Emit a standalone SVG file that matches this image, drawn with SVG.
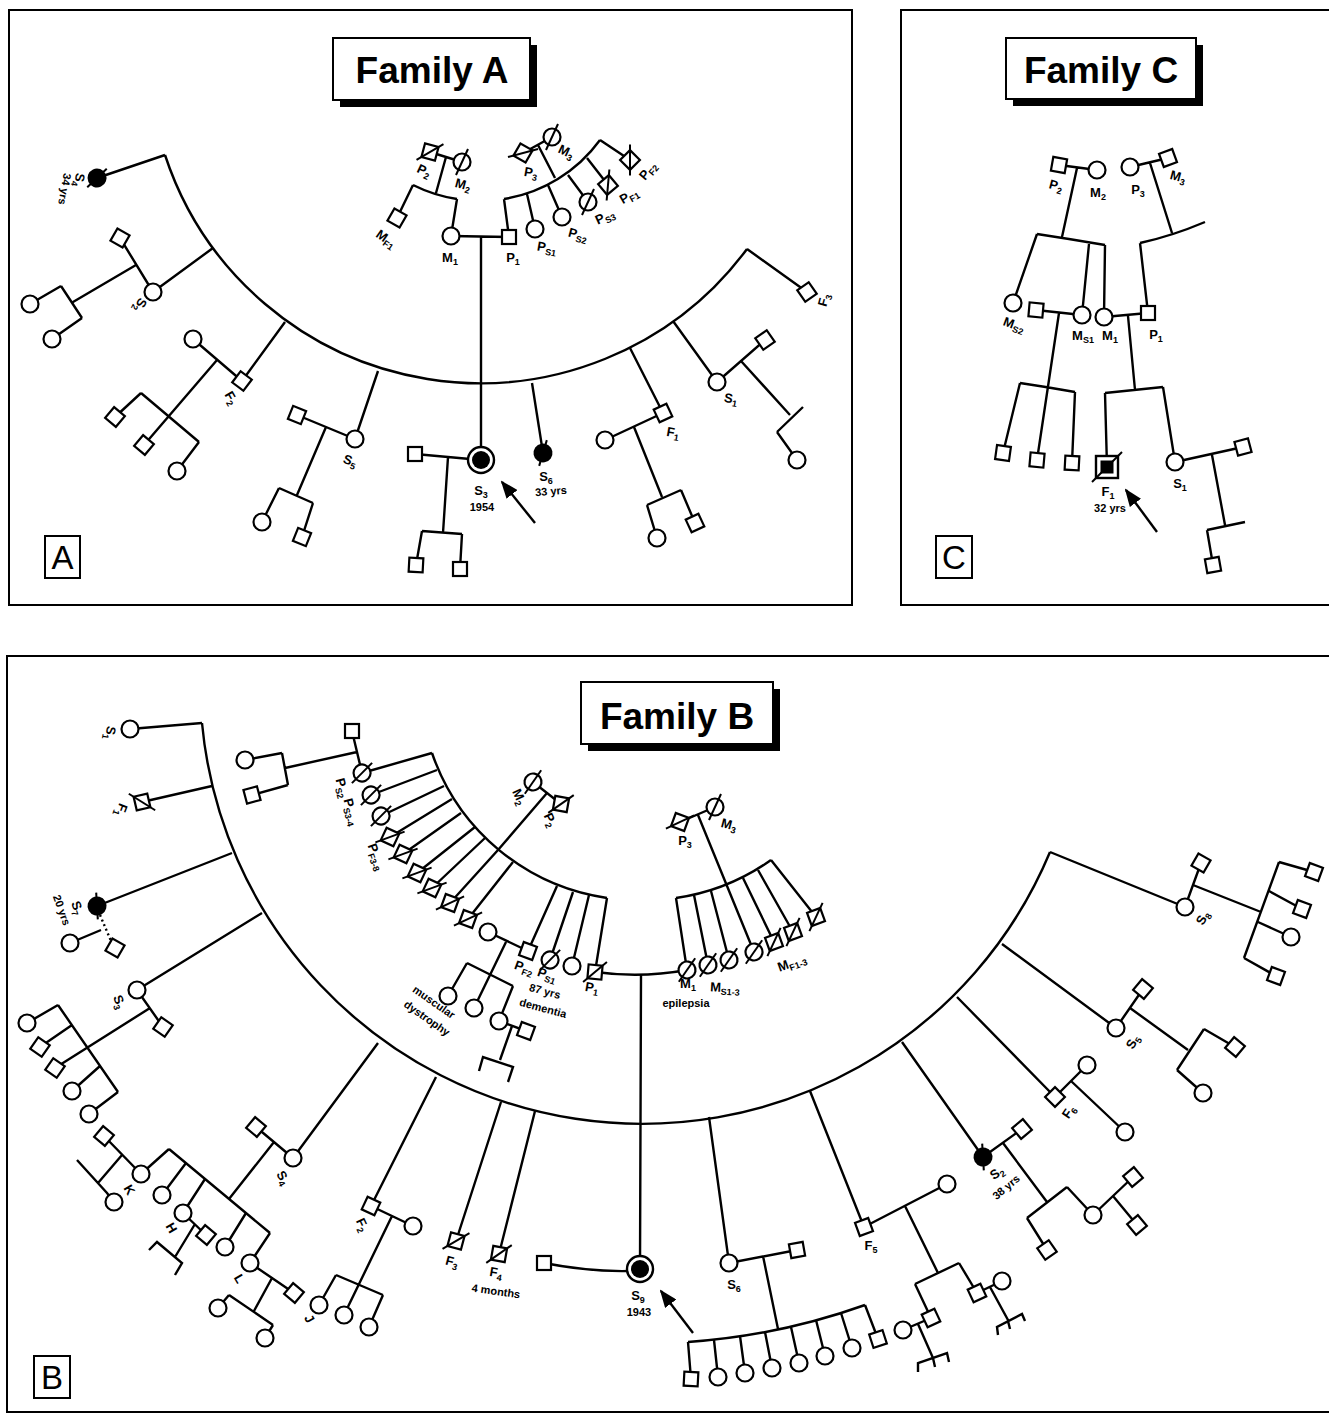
<svg xmlns="http://www.w3.org/2000/svg" xmlns:xlink="http://www.w3.org/1999/xlink" width="1329" height="1423" viewBox="0 0 1329 1423">
<style>
.fr{fill:none;stroke:#000;stroke-width:2}
.ln{fill:none;stroke:#000;stroke-width:2.4}
.dt{fill:none;stroke:#000;stroke-width:2.4;stroke-dasharray:2 3}
.t{font-family:"Liberation Sans",Arial,sans-serif;font-weight:bold;font-size:13px;fill:#000;text-anchor:middle}
.s{font-size:9px}
.u{font-family:"Liberation Sans",Arial,sans-serif;font-weight:bold;font-size:11px;fill:#000;text-anchor:middle}
.ti{font-family:"Liberation Sans",Arial,sans-serif;font-weight:bold;font-size:37px;fill:#000;text-anchor:middle}
.pl{font-family:"Liberation Sans",Arial,sans-serif;font-size:33px;fill:#000;text-anchor:middle}
</style>
<defs>
<rect id="sq" x="-7" y="-7" width="14" height="14" fill="#fff" stroke="#000" stroke-width="2.2"/>
<circle id="ci" r="8.5" fill="#fff" stroke="#000" stroke-width="2.2"/>
<g id="sqx"><rect x="-7" y="-7" width="14" height="14" fill="#fff" stroke="#000" stroke-width="2.2"/><line x1="-11" y1="11" x2="11" y2="-11" stroke="#000" stroke-width="2"/></g>
<g id="cix"><circle r="8.5" fill="#fff" stroke="#000" stroke-width="2.2"/><line x1="-6" y1="13" x2="6" y2="-13" stroke="#000" stroke-width="2"/></g>
<g id="cfx"><circle r="8.5" fill="#000" stroke="#000" stroke-width="2"/><line x1="-6" y1="12" x2="6" y2="-12" stroke="#000" stroke-width="2"/></g>
<g id="pro"><circle r="13" fill="#fff" stroke="#000" stroke-width="2.4"/><circle r="9" fill="#000"/></g>
<g id="prosq"><rect x="-11" y="-11" width="22" height="22" fill="#fff" stroke="#000" stroke-width="2.4"/><rect x="-6.5" y="-6.5" width="13" height="13" fill="#000"/><line x1="-15" y1="15" x2="15" y2="-15" stroke="#000" stroke-width="2"/></g>
<marker id="ah" markerUnits="userSpaceOnUse" markerWidth="18" markerHeight="14" refX="16" refY="7" orient="auto"><path d="M0,0 L18,7 L0,14 z" fill="#000"/></marker>
</defs>
<rect x="0" y="0" width="1329" height="1423" fill="#fff"/>

<g id="frames">
<rect class="fr" x="9" y="10" width="843" height="595"/>
<rect class="fr" x="901" y="10" width="432" height="595"/>
<rect class="fr" x="7" y="656" width="1326" height="756"/>
</g>

<g id="titles">
<rect x="340" y="45" width="197" height="62" fill="#000"/>
<rect x="333" y="38" width="197" height="62" fill="#fff" stroke="#000" stroke-width="2"/>
<text class="ti" x="432" y="83">Family A</text>
<rect x="1013" y="45" width="190" height="61" fill="#000"/>
<rect x="1006" y="38" width="190" height="61" fill="#fff" stroke="#000" stroke-width="2"/>
<text class="ti" x="1101" y="83">Family C</text>
<rect x="588" y="689" width="192" height="62" fill="#000"/>
<rect x="581" y="682" width="192" height="62" fill="#fff" stroke="#000" stroke-width="2"/>
<text class="ti" x="677" y="729">Family B</text>
<rect x="45" y="536" width="35" height="42" fill="#fff" stroke="#000" stroke-width="2"/>
<text class="pl" x="62.5" y="569">A</text>
<rect x="936" y="536" width="36" height="42" fill="#fff" stroke="#000" stroke-width="2"/>
<text class="pl" x="954" y="569">C</text>
<rect x="34" y="1356" width="36" height="42" fill="#fff" stroke="#000" stroke-width="2"/>
<text class="pl" x="52" y="1389">B</text>
</g>

<g id="connectors">
<!-- Family A -->
<path class="ln" d="M165,155 A332,332 0 0 0 747,249"/>
<path class="ln" d="M165,155 L97,178 M747,249 L807,292"/>
<path class="ln" d="M213,248 L153,292 M120,238 L153,292 M136,265 L73,302 M61,286 L82,318 M61,286 L30,304 M82,318 L52,339"/>
<path class="ln" d="M285,322 L242,381 M193,339 L242,381 M217,360 L144,445 M141,393 L199,442 M141,393 L115,417 M199,442 L177,471"/>
<path class="ln" d="M378,371 L355,439 M297,415 L355,439 M326,427 L297,495 M279,488 L313,503 M279,488 L262,522 M313,503 L302,537"/>
<path class="ln" d="M451,236 L509,237 M481,236 L481,460"/>
<path class="ln" d="M415,454 L481,460 M448,457 L443,533 M422,531 L462,534 M422,531 L416,565 M462,534 L460,569"/>
<path class="ln" d="M532,383 L543,453"/>
<path class="ln" d="M630,348 L663,413 M605,440 L663,413 M634,427 L662,497 M647,505 L681,490 M647,505 L657,538 M681,490 L695,523"/>
<path class="ln" d="M673,321 L717,382 M717,382 L765,340 M741,361 L790,415 M803,407 L777,432 M777,432 L797,460"/>
<path class="ln" d="M430,152 L462,162 M446,157 L436,193 M413,185 A148,148 0 0 0 457,199 M413,185 L397,218 M457,199 L451,236"/>
<path class="ln" d="M523,153 L552,137 M538,145 L555,178 M504,199 A148,148 0 0 0 600,140 M504,199 L509,237 M527,194 L535,229 M548,185 L562,217 M568,175 L588,202 M587,158 L608,185 M600,140 L630,160"/>
<path class="ln" d="M535,523 L502,482" marker-end="url(#ah)"/>
<!-- Family C -->
<path class="ln" d="M1059,165 L1097,170 M1077,168 L1062,237 M1037,234 Q1070,239 1105,245 M1037,234 L1013,303 M1089,244 L1082,315 M1105,245 L1104,317"/>
<path class="ln" d="M1130,167 L1168,158 M1150,163 L1172,233 M1140,243 Q1172,236 1205,222 M1140,243 L1148,313"/>
<path class="ln" d="M1036,310 L1082,315 M1059,313 L1037,460 M1020,383 Q1047,387 1075,392 M1020,383 L1003,453 M1075,392 L1072,463"/>
<path class="ln" d="M1104,317 L1148,313 M1128,316 L1135,390 M1105,393 Q1135,390 1163,387 M1105,393 L1107,467 M1163,387 L1175,462"/>
<path class="ln" d="M1175,462 L1243,447 M1212,455 L1225,525 M1207,530 L1245,522 M1207,530 L1213,565"/>
<path class="ln" d="M1157,532 L1126,490" marker-end="url(#ah)"/>
<!-- Family B big arc -->
<path class="ln" d="M202,723 A442,442 0 0 0 1050,852"/>
<path class="ln" d="M202,723 L130,729 M212,786 L142,802 M232,853 L97,906 M70,943 L101,930"/>
<path class="dt" d="M100,915 L111,941"/>
<path class="ln" d="M262,913 L137,990 M137,990 L163,1027 M150,1008 L55,1068 M58,1005 L118,1092 M58,1005 L27,1023 M72,1025 L40,1047 M100,1066 L72,1091 M118,1092 L89,1114"/>
<path class="ln" d="M378,1043 L293,1158 M256,1127 L293,1158 M274,1142 L229,1199 M169,1149 L270,1233"/>
<path class="ln" d="M169,1149 L141,1174 M104,1136 L141,1174 M122,1155 L98,1183 M77,1160 L107,1193 L114,1202"/>
<path class="ln" d="M186,1163 L162,1195 M205,1179 L183,1213 M183,1213 L206,1235 M195,1224 L175,1257 M149,1250 L157,1242 L182,1263 L175,1275"/>
<path class="ln" d="M246,1213 L225,1247 M270,1233 L250,1263 M250,1263 L294,1293 M272,1278 L254,1311 M229,1295 L273,1325 M229,1295 L218,1308 M273,1325 L265,1338"/>
<path class="ln" d="M436,1077 L371,1206 M371,1206 L413,1226 M392,1216 L344,1315 M336,1275 L383,1295 M336,1275 L319,1305 M383,1295 L369,1327"/>
<path class="ln" d="M501,1102 L456,1241 M535,1111 L499,1254"/>
<path class="ln" d="M641,975 L640,1269 M544,1263 Q590,1272 630,1271"/>
<path class="ln" d="M693,1333 L661,1291" marker-end="url(#ah)"/>
<path class="ln" d="M709,1117 L729,1263 M729,1263 L797,1250 M763,1256 L778,1329 M688,1342 A661,661 0 0 0 865,1305"/>
<path class="ln" d="M688,1342 L691,1379 M714,1340 L718,1377 M740,1336 L745,1373 M765,1332 L772,1368 M791,1327 L799,1363 M816,1320 L825,1356 M841,1313 L852,1348 M865,1305 L878,1339"/>
<path class="ln" d="M810,1091 L864,1227 M864,1227 L947,1184 M905,1206 L938,1273 M915,1284 L959,1263 M915,1284 L931,1318 M959,1263 L977,1293"/>
<path class="ln" d="M903,1330 L931,1318 M918,1324 L933,1358 M918,1372 L918,1363 L947,1353 L949,1362 M933,1358 L935,1367"/>
<path class="ln" d="M977,1293 L1002,1281 M990,1287 L1008,1320 M998,1335 L997,1327 L1022,1314 L1025,1321 M1008,1321 L1010,1329"/>
<path class="ln" d="M902,1042 L983,1157 M983,1157 L1022,1129 M1003,1143 L1047,1202 M1027,1218 L1067,1187 M1027,1218 L1047,1250 M1067,1187 L1093,1215 M1093,1215 L1133,1177 M1113,1196 L1137,1225"/>
<path class="ln" d="M957,997 L1055,1097 M1055,1097 L1087,1065 M1071,1081 L1125,1132"/>
<path class="ln" d="M1002,944 L1116,1028 M1116,1028 L1143,989 M1130,1008 L1188,1050 M1204,1029 L1177,1070 M1204,1029 L1235,1047 M1177,1070 L1203,1093"/>
<path class="ln" d="M1050,852 L1185,907 M1185,907 L1201,863 M1193,885 L1261,912 M1279,862 L1244,958 M1279,862 L1314,872 M1269,891 L1302,909 M1258,922 L1291,937 M1244,958 L1276,976"/>
<!-- Family B paternal side -->
<path class="ln" d="M432,753 A218,218 0 0 0 607,898"/>
<path class="ln" d="M432,753 L362,773 M437,770 L371,795 M444,786 L381,816 M452,799 L390,837 M461,813 L403,854 M475,827 L417,873 M485,838 L432,888 M498,850 L450,903 M513,862 L468,919"/>
<path class="ln" d="M557,886 L528,951 M573,892 L550,960 M589,895 L572,966 M607,898 L595,972"/>
<path class="ln" d="M533,782 L561,804 M547,793 L498,850"/>
<path class="ln" d="M352,731 L362,773 M357,752 L285,768 M282,753 L288,785 M282,753 L245,760 M288,785 L252,795"/>
<path class="ln" d="M488,932 L528,951 M506,942 L474,1008 M467,963 L513,986 M467,963 L448,996 M513,986 L499,1021"/>
<path class="ln" d="M499,1021 L526,1031 M512,1026 L500,1060 M479,1071 L483,1057 L513,1067 L508,1082"/>
<path class="ln" d="M595,972 A292,292 0 0 0 687,970"/>
<!-- Family B maternal side -->
<path class="ln" d="M680,822 L715,807 M698,815 L754,952 M676,898 A218,218 0 0 0 771,860"/>
<path class="ln" d="M676,898 L687,970 M694,895 L708,965 M711,891 L729,960 M743,878 L774,942 M758,870 L793,932 M771,860 L816,917"/>
</g>

<!-- ===== Family A nodes ===== -->
<g id="A-S4"><use href="#cfx" transform="translate(97,178) rotate(20)"/><text class="t" transform="translate(79,180) rotate(100)" y="4">S<tspan class="s" dy="3">4</tspan></text><text class="u" transform="translate(65,189) rotate(100)" y="4">34 yrs</text></g>
<g id="A-S2"><use href="#ci" x="153" y="292"/><text class="t" transform="translate(140,305) rotate(117)" y="4">S<tspan class="s" dy="3">2</tspan></text></g>
<g id="A-S2m"><use href="#sq" transform="translate(120,238) rotate(30)"/></g>
<g id="A-S2c1"><use href="#ci" x="30" y="304"/></g>
<g id="A-S2c2"><use href="#ci" x="52" y="339"/></g>
<g id="A-F2"><use href="#sq" transform="translate(242,381) rotate(37)"/><text class="t" transform="translate(231,398) rotate(60)" y="4">F<tspan class="s" dy="3">2</tspan></text></g>
<g id="A-F2m"><use href="#ci" x="193" y="339"/></g>
<g id="A-F2c1"><use href="#sq" transform="translate(115,417) rotate(40)"/></g>
<g id="A-F2c2"><use href="#sq" transform="translate(144,445) rotate(40)"/></g>
<g id="A-F2c3"><use href="#ci" x="177" y="471"/></g>
<g id="A-S5"><use href="#ci" x="355" y="439"/><text class="t" transform="translate(350,461) rotate(20)" y="4">S<tspan class="s" dy="3">5</tspan></text></g>
<g id="A-S5m"><use href="#sq" transform="translate(297,415) rotate(22)"/></g>
<g id="A-S5c1"><use href="#ci" x="262" y="522"/></g>
<g id="A-S5c2"><use href="#sq" transform="translate(302,537) rotate(22)"/></g>
<g id="A-MF1"><use href="#sq" transform="translate(397,218) rotate(30)"/><text class="t" transform="translate(386,239) rotate(35)" y="4">M<tspan class="s" dy="3">F1</tspan></text></g>
<g id="A-P2"><use href="#sqx" transform="translate(430,152) rotate(15)"/><text class="t" transform="translate(424,171) rotate(25)" y="4">P<tspan class="s" dy="3">2</tspan></text></g>
<g id="A-M2"><use href="#cix" x="462" y="162"/><text class="t" transform="translate(463,185) rotate(15)" y="4">M<tspan class="s" dy="3">2</tspan></text></g>
<g id="A-M1"><use href="#ci" x="451" y="236"/><text class="t" x="450" y="262">M<tspan class="s" dy="3">1</tspan></text></g>
<g id="A-P1"><use href="#sq" x="509" y="237"/><text class="t" x="513" y="262">P<tspan class="s" dy="3">1</tspan></text></g>
<g id="A-P3"><use href="#sqx" transform="translate(523,153) rotate(30)"/><text class="t" transform="translate(531,173) rotate(10)" y="4">P<tspan class="s" dy="3">3</tspan></text></g>
<g id="A-M3"><use href="#cix" x="552" y="137"/><text class="t" transform="translate(566,152) rotate(25)" y="4">M<tspan class="s" dy="3">3</tspan></text></g>
<g id="A-PS1"><use href="#ci" x="535" y="229"/><text class="t" transform="translate(547,248) rotate(10)" y="4">P<tspan class="s" dy="3">S1</tspan></text></g>
<g id="A-PS2"><use href="#ci" x="562" y="217"/><text class="t" transform="translate(578,235) rotate(15)" y="4">P<tspan class="s" dy="3">S2</tspan></text></g>
<g id="A-PS3"><use href="#cix" x="588" y="202"/><text class="t" transform="translate(605,217) rotate(-25)" y="4">P<tspan class="s" dy="3">S3</tspan></text></g>
<g id="A-PF1"><use href="#sqx" transform="translate(608,185) rotate(-40)"/><text class="t" transform="translate(629,196) rotate(-30)" y="4">P<tspan class="s" dy="3">F1</tspan></text></g>
<g id="A-PF2"><use href="#sqx" transform="translate(630,160) rotate(-45)"/><text class="t" transform="translate(648,171) rotate(-50)" y="4">P<tspan class="s" dy="3">F2</tspan></text></g>
<g id="A-S3"><use href="#pro" x="481" y="460"/><text class="t" x="481" y="495">S<tspan class="s" dy="3">3</tspan></text><text class="u" x="482" y="511">1954</text></g>
<g id="A-S3m"><use href="#sq" x="415" y="454"/></g>
<g id="A-S3c1"><use href="#sq" transform="translate(416,565) rotate(3)"/></g>
<g id="A-S3c2"><use href="#sq" x="460" y="569"/></g>
<g id="A-S6"><use href="#cfx" transform="translate(543,453) rotate(-10)"/><text class="t" x="546" y="481">S<tspan class="s" dy="3">6</tspan></text><text class="u" transform="translate(551,491) rotate(-5)" y="4">33 yrs</text></g>
<g id="A-F1"><use href="#sq" transform="translate(663,413) rotate(-25)"/><text class="t" transform="translate(673,433) rotate(10)" y="4">F<tspan class="s" dy="3">1</tspan></text></g>
<g id="A-F1m"><use href="#ci" x="605" y="440"/></g>
<g id="A-F1c1"><use href="#ci" x="657" y="538"/></g>
<g id="A-F1c2"><use href="#sq" transform="translate(695,523) rotate(-25)"/></g>
<g id="A-S1"><use href="#ci" x="717" y="382"/><text class="t" transform="translate(731,399) rotate(10)" y="4">S<tspan class="s" dy="3">1</tspan></text></g>
<g id="A-S1m"><use href="#sq" transform="translate(765,340) rotate(-35)"/></g>
<g id="A-S1c"><use href="#ci" x="797" y="460"/></g>
<g id="A-F3"><use href="#sq" transform="translate(807,292) rotate(-35)"/><text class="t" transform="translate(824,300) rotate(-75)" y="4">F<tspan class="s" dy="3">3</tspan></text></g>

<!-- ===== Family C nodes ===== -->
<g id="C-P2"><use href="#sq" transform="translate(1059,165) rotate(10)"/><text class="t" transform="translate(1056,186) rotate(15)" y="4">P<tspan class="s" dy="3">2</tspan></text></g>
<g id="C-M2"><use href="#ci" x="1097" y="170"/><text class="t" x="1098" y="197">M<tspan class="s" dy="3">2</tspan></text></g>
<g id="C-P3"><use href="#ci" x="1130" y="167"/><text class="t" x="1138" y="194">P<tspan class="s" dy="3">3</tspan></text></g>
<g id="C-M3"><use href="#sq" transform="translate(1168,158) rotate(-20)"/><text class="t" transform="translate(1178,177) rotate(15)" y="4">M<tspan class="s" dy="3">3</tspan></text></g>
<g id="C-MS2"><use href="#ci" x="1013" y="303"/><text class="t" transform="translate(1014,325) rotate(20)" y="4">M<tspan class="s" dy="3">S2</tspan></text></g>
<g id="C-MS1m"><use href="#sq" transform="translate(1036,310) rotate(5)"/></g>
<g id="C-MS1"><use href="#ci" x="1082" y="315"/><text class="t" x="1083" y="340">M<tspan class="s" dy="3">S1</tspan></text></g>
<g id="C-M1"><use href="#ci" x="1104" y="317"/><text class="t" x="1110" y="340">M<tspan class="s" dy="3">1</tspan></text></g>
<g id="C-P1"><use href="#sq" x="1148" y="313"/><text class="t" x="1156" y="339">P<tspan class="s" dy="3">1</tspan></text></g>
<g id="C-c1"><use href="#sq" transform="translate(1003,453) rotate(8)"/></g>
<g id="C-c2"><use href="#sq" transform="translate(1037,460) rotate(5)"/></g>
<g id="C-c3"><use href="#sq" transform="translate(1072,463) rotate(3)"/></g>
<g id="C-F1"><use href="#prosq" x="1107" y="467"/><text class="t" x="1108" y="496">F<tspan class="s" dy="3">1</tspan></text><text class="u" x="1110" y="512">32 yrs</text></g>
<g id="C-S1"><use href="#ci" x="1175" y="462"/><text class="t" x="1180" y="488">S<tspan class="s" dy="3">1</tspan></text></g>
<g id="C-S1m"><use href="#sq" transform="translate(1243,447) rotate(-15)"/></g>
<g id="C-S1c"><use href="#sq" transform="translate(1213,565) rotate(-10)"/></g>

<!-- ===== Family B nodes ===== -->
<g id="B-S1"><use href="#ci" x="130" y="729"/><text class="t" transform="translate(110,733) rotate(100)" y="4">S<tspan class="s" dy="3">1</tspan></text></g>
<g id="B-F1"><use href="#sqx" transform="translate(142,802) rotate(77)"/><text class="t" transform="translate(121,810) rotate(110)" y="4">F<tspan class="s" dy="3">1</tspan></text></g>
<g id="B-S7"><use href="#cfx" transform="translate(97,906) rotate(-30)"/><text class="t" transform="translate(77,908) rotate(70)" y="4">S<tspan class="s" dy="3">7</tspan></text><text class="u" transform="translate(62,910) rotate(70)" y="4">20 yrs</text></g>
<g id="B-S7c"><use href="#ci" x="70" y="943"/></g>
<g id="B-S7sq"><use href="#sq" transform="translate(115,948) rotate(30)"/></g>
<g id="B-S3"><use href="#ci" x="137" y="990"/><text class="t" transform="translate(119,1002) rotate(70)" y="4">S<tspan class="s" dy="3">3</tspan></text></g>
<g id="B-S3m"><use href="#sq" transform="translate(163,1027) rotate(35)"/></g>
<g id="B-S3c1"><use href="#ci" x="27" y="1023"/></g>
<g id="B-S3c2"><use href="#sq" transform="translate(40,1047) rotate(35)"/></g>
<g id="B-S3c3"><use href="#sq" transform="translate(55,1068) rotate(35)"/></g>
<g id="B-S3c4"><use href="#ci" x="72" y="1091"/></g>
<g id="B-S3c5"><use href="#ci" x="89" y="1114"/></g>
<g id="B-S4"><use href="#ci" x="293" y="1158"/><text class="t" transform="translate(283,1178) rotate(60)" y="4">S<tspan class="s" dy="3">4</tspan></text></g>
<g id="B-S4m"><use href="#sq" transform="translate(256,1127) rotate(40)"/></g>
<g id="B-K"><use href="#ci" x="141" y="1174"/><text class="t" transform="translate(129,1190) rotate(60)" y="4">K</text></g>
<g id="B-Km"><use href="#sq" transform="translate(104,1136) rotate(40)"/></g>
<g id="B-Kc"><use href="#ci" x="114" y="1202"/></g>
<g id="B-S4c2"><use href="#ci" x="162" y="1195"/></g>
<g id="B-H"><use href="#ci" x="183" y="1213"/><text class="t" transform="translate(171,1228) rotate(60)" y="4">H</text></g>
<g id="B-Hm"><use href="#sq" transform="translate(206,1235) rotate(40)"/></g>
<g id="B-S4c4"><use href="#ci" x="225" y="1247"/></g>
<g id="B-L"><use href="#ci" x="250" y="1263"/><text class="t" transform="translate(239,1279) rotate(60)" y="4">L</text></g>
<g id="B-Lm"><use href="#sq" transform="translate(294,1293) rotate(40)"/></g>
<g id="B-Lc1"><use href="#ci" x="218" y="1308"/></g>
<g id="B-Lc2"><use href="#ci" x="265" y="1338"/></g>
<g id="B-F2"><use href="#sq" transform="translate(371,1206) rotate(25)"/><text class="t" transform="translate(362,1225) rotate(65)" y="4">F<tspan class="s" dy="3">2</tspan></text></g>
<g id="B-F2m"><use href="#ci" x="413" y="1226"/></g>
<g id="B-J"><use href="#ci" x="319" y="1305"/><text class="t" transform="translate(309,1319) rotate(60)" y="4">J</text></g>
<g id="B-F2c2"><use href="#ci" x="344" y="1315"/></g>
<g id="B-F2c3"><use href="#ci" x="369" y="1327"/></g>
<g id="B-F3"><use href="#sqx" transform="translate(456,1241) rotate(15)"/><text class="t" transform="translate(452,1262) rotate(15)" y="4">F<tspan class="s" dy="3">3</tspan></text></g>
<g id="B-F4"><use href="#sqx" transform="translate(499,1254) rotate(10)"/><text class="t" transform="translate(496,1273) rotate(10)" y="4">F<tspan class="s" dy="3">4</tspan></text><text class="u" transform="translate(496,1291) rotate(8)" y="4">4 months</text></g>
<g id="B-S9"><use href="#pro" x="640" y="1269"/><text class="t" x="638" y="1300">S<tspan class="s" dy="3">9</tspan></text><text class="u" x="639" y="1316">1943</text></g>
<g id="B-S9m"><use href="#sq" x="544" y="1263"/></g>
<g id="B-S6"><use href="#ci" x="729" y="1263"/><text class="t" x="734" y="1289">S<tspan class="s" dy="3">6</tspan></text></g>
<g id="B-S6m"><use href="#sq" transform="translate(797,1250) rotate(-10)"/></g>
<g id="B-S6c1"><use href="#sq" transform="translate(691,1379) rotate(3)"/></g>
<g id="B-S6c2"><use href="#ci" x="718" y="1377"/></g>
<g id="B-S6c3"><use href="#ci" x="745" y="1373"/></g>
<g id="B-S6c4"><use href="#ci" x="772" y="1368"/></g>
<g id="B-S6c5"><use href="#ci" x="799" y="1363"/></g>
<g id="B-S6c6"><use href="#ci" x="825" y="1356"/></g>
<g id="B-S6c7"><use href="#ci" x="852" y="1348"/></g>
<g id="B-S6c8"><use href="#sq" transform="translate(878,1339) rotate(-18)"/></g>
<g id="B-F5"><use href="#sq" transform="translate(864,1227) rotate(-20)"/><text class="t" x="871" y="1250">F<tspan class="s" dy="3">5</tspan></text></g>
<g id="B-F5m"><use href="#ci" x="947" y="1184"/></g>
<g id="B-F5c1"><use href="#sq" transform="translate(931,1318) rotate(-25)"/></g>
<g id="B-F5c1m"><use href="#ci" x="903" y="1330"/></g>
<g id="B-F5c2"><use href="#sq" transform="translate(977,1293) rotate(-25)"/></g>
<g id="B-F5c2m"><use href="#ci" x="1002" y="1281"/></g>
<g id="B-S2"><use href="#cfx" transform="translate(983,1157) rotate(-30)"/><text class="t" transform="translate(997,1173) rotate(-35)" y="4">S<tspan class="s" dy="3">2</tspan></text><text class="u" transform="translate(1006,1187) rotate(-40)" y="4">38 yrs</text></g>
<g id="B-S2m"><use href="#sq" transform="translate(1022,1129) rotate(-40)"/></g>
<g id="B-S2c1"><use href="#sq" transform="translate(1047,1250) rotate(-35)"/></g>
<g id="B-S2c2"><use href="#ci" x="1093" y="1215"/></g>
<g id="B-S2c2m"><use href="#sq" transform="translate(1133,1177) rotate(-40)"/></g>
<g id="B-S2c2c"><use href="#sq" transform="translate(1137,1225) rotate(-40)"/></g>
<g id="B-F6"><use href="#sq" transform="translate(1055,1097) rotate(-45)"/><text class="t" transform="translate(1069,1112) rotate(-55)" y="4">F<tspan class="s" dy="3">6</tspan></text></g>
<g id="B-F6m"><use href="#ci" x="1087" y="1065"/></g>
<g id="B-F6c"><use href="#ci" x="1125" y="1132"/></g>
<g id="B-S5"><use href="#ci" x="1116" y="1028"/><text class="t" transform="translate(1133,1042) rotate(-60)" y="4">S<tspan class="s" dy="3">5</tspan></text></g>
<g id="B-S5m"><use href="#sq" transform="translate(1143,989) rotate(-50)"/></g>
<g id="B-S5c1"><use href="#sq" transform="translate(1235,1047) rotate(-50)"/></g>
<g id="B-S5c2"><use href="#ci" x="1203" y="1093"/></g>
<g id="B-S8"><use href="#ci" x="1185" y="907"/><text class="t" transform="translate(1203,918) rotate(-60)" y="4">S<tspan class="s" dy="3">8</tspan></text></g>
<g id="B-S8m"><use href="#sq" transform="translate(1201,863) rotate(-60)"/></g>
<g id="B-S8c1"><use href="#sq" transform="translate(1314,872) rotate(-70)"/></g>
<g id="B-S8c2"><use href="#sq" transform="translate(1302,909) rotate(-70)"/></g>
<g id="B-S8c3"><use href="#ci" x="1291" y="937"/></g>
<g id="B-S8c4"><use href="#sq" transform="translate(1276,976) rotate(-70)"/></g>
<!-- paternal side -->
<g id="B-PS2"><use href="#cix" transform="translate(362,773) rotate(20)"/><text class="t" transform="translate(342,788) rotate(75)" y="4">P<tspan class="s" dy="3">S2</tspan></text></g>
<g id="B-PS2m"><use href="#sq" x="352" y="731"/></g>
<g id="B-PS2c1"><use href="#ci" x="245" y="760"/></g>
<g id="B-PS2c2"><use href="#sq" transform="translate(252,795) rotate(-15)"/></g>
<g id="B-PS3"><use href="#cix" transform="translate(371,795) rotate(20)"/><text class="t" transform="translate(351,812) rotate(75)" y="4">P<tspan class="s" dy="3">S3-4</tspan></text></g>
<g id="B-PS4"><use href="#cix" transform="translate(381,816) rotate(20)"/></g>
<g id="B-PF3"><use href="#sqx" transform="translate(390,837) rotate(25)"/><text class="t" transform="translate(376,857) rotate(70)" y="4">P<tspan class="s" dy="3">F3-8</tspan></text></g>
<g id="B-PF4"><use href="#sqx" transform="translate(403,854) rotate(25)"/></g>
<g id="B-PF5"><use href="#sqx" transform="translate(417,873) rotate(25)"/></g>
<g id="B-PF6"><use href="#sqx" transform="translate(432,888) rotate(25)"/></g>
<g id="B-PF7"><use href="#sqx" transform="translate(450,903) rotate(20)"/></g>
<g id="B-PF8"><use href="#sqx" transform="translate(468,919) rotate(20)"/></g>
<g id="B-PF2m"><use href="#ci" x="488" y="932"/></g>
<g id="B-PF2"><use href="#sq" transform="translate(528,951) rotate(20)"/><text class="t" transform="translate(524,968) rotate(20)" y="4">P<tspan class="s" dy="3">F2</tspan></text></g>
<g id="B-PS1"><use href="#cix" transform="translate(550,960) rotate(20)"/><text class="t" transform="translate(547,975) rotate(20)" y="4">P<tspan class="s" dy="3">S1</tspan></text><text class="u" transform="translate(545,991) rotate(15)" y="4">87 yrs</text><text class="u" transform="translate(543,1008) rotate(15)" y="4">dementia</text></g>
<g id="B-PS5"><use href="#ci" x="572" y="966"/></g>
<g id="B-P1"><use href="#sqx" transform="translate(595,972) rotate(5)"/><text class="t" transform="translate(592,988) rotate(10)" y="4">P<tspan class="s" dy="3">1</tspan></text></g>
<g id="B-PF2c1"><use href="#ci" x="448" y="996"/></g>
<g id="B-PF2c2"><use href="#ci" x="474" y="1008"/></g>
<g id="B-PF2c3"><use href="#ci" x="499" y="1021"/></g>
<g id="B-PF2c3m"><use href="#sq" transform="translate(526,1031) rotate(20)"/></g>
<g id="B-md"><text class="u" transform="translate(434,1002) rotate(35)" y="4">muscular</text><text class="u" transform="translate(427,1018) rotate(35)" y="4">dystrophy</text></g>
<g id="B-M2"><use href="#cix" transform="translate(533,782) rotate(10)"/><text class="t" transform="translate(519,797) rotate(65)" y="4">M<tspan class="s" dy="3">2</tspan></text></g>
<g id="B-P2"><use href="#sqx" transform="translate(561,804) rotate(10)"/><text class="t" transform="translate(550,820) rotate(65)" y="4">P<tspan class="s" dy="3">2</tspan></text></g>
<!-- maternal side -->
<g id="B-P3"><use href="#sqx" transform="translate(680,822) rotate(20)"/><text class="t" x="685" y="845">P<tspan class="s" dy="3">3</tspan></text></g>
<g id="B-M3"><use href="#cix" x="715" y="807"/><text class="t" transform="translate(729,825) rotate(15)" y="4">M<tspan class="s" dy="3">3</tspan></text></g>
<g id="B-M1"><use href="#cix" transform="translate(687,970) rotate(10)"/><text class="t" x="688" y="988">M<tspan class="s" dy="3">1</tspan></text><text class="u" x="686" y="1007">epilepsia</text></g>
<g id="B-MS1"><use href="#cix" transform="translate(708,965) rotate(10)"/><text class="t" transform="translate(725,988) rotate(3)" y="4">M<tspan class="s" dy="3">S1-3</tspan></text></g>
<g id="B-MS2"><use href="#cix" transform="translate(729,960) rotate(10)"/></g>
<g id="B-MS3"><use href="#cix" transform="translate(754,952) rotate(10)"/></g>
<g id="B-MF1"><use href="#sqx" transform="translate(774,942) rotate(-20)"/><text class="t" transform="translate(792,963) rotate(-20)" y="4">M<tspan class="s" dy="3">F1-3</tspan></text></g>
<g id="B-MF2"><use href="#sqx" transform="translate(793,932) rotate(-20)"/></g>
<g id="B-MF3"><use href="#sqx" transform="translate(816,917) rotate(-20)"/></g>
</svg>
